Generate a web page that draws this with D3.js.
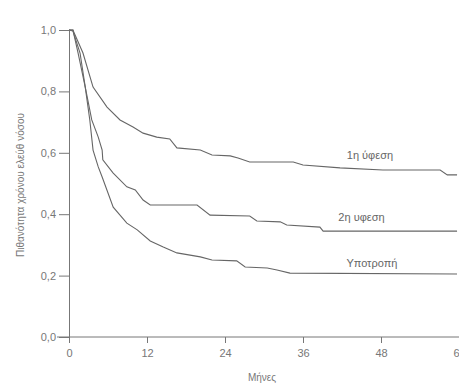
<!DOCTYPE html>
<html>
<head>
<meta charset="utf-8">
<script src="https://cdn.jsdelivr.net/npm/d3@7"></script>
<style>
body{margin:0;background:#fff;}
svg{display:block;}
.axis text{font-family:"Liberation Sans",Arial,sans-serif;font-size:11px;fill:#777;}
.axis path,.axis line{stroke:#777;}
</style>
</head>
<body>
<script>
let w = 459, h = 383;
let margin = {left: 69, right: 0, top: 30, bottom: 46};

// months on x, probability on y
let months1 = [0,0.6,2.15,3.7,5.85,7.85,9.85,11.4,13.5,15.5,16.6,20.2,22,24.8,26,27.8,34.5,36,41.7,48.3,57.1,58.2,59.7];
let remission1 = [1,1,0.925,0.814,0.749,0.707,0.684,0.664,0.651,0.645,0.616,0.609,0.593,0.590,0.583,0.570,0.570,0.560,0.551,0.544,0.544,0.528,0.528];

let months2 = [0,0.6,1.4,2.5,3.5,4.5,5.1,5.2,6.8,8.9,10.2,11.4,12.5,19.7,21.7,27.8,28.9,32.5,33.5,38.6,39.1,59.7];
let remission2 = [1,1,0.925,0.814,0.707,0.651,0.609,0.577,0.534,0.489,0.479,0.446,0.430,0.430,0.397,0.394,0.378,0.375,0.365,0.358,0.345,0.345];

let months3 = [0,0.6,1.7,2.5,3.2,3.7,4.5,5.1,6.8,8.9,10.5,12.5,14.5,16.6,20.2,22,25.8,27.1,30.5,32,34,59.7];
let relapse = [1,0.997,0.925,0.814,0.707,0.609,0.554,0.521,0.423,0.371,0.349,0.313,0.293,0.274,0.261,0.251,0.248,0.228,0.225,0.218,0.208,0.205];

let seriesNames = ["1η ύφεση","2η υφεση","Υποτροπή"];
let xTicks = [0,12,24,36,48,60];
let yTicks = [0,0.2,0.4,0.6,0.8,1.0];

let svg = d3.select("body").append("svg").attr("width",w).attr("height",h);

let x = d3.scaleLinear().domain([0,60]).range([margin.left, w - margin.right]);
let y = d3.scaleLinear().domain([0,1]).range([h - margin.bottom, margin.top]);

let xAxis = d3.axisBottom(x).tickValues(xTicks).tickSize(6).tickSizeOuter(0).tickPadding(6);
let yAxis = d3.axisLeft(y).tickValues(yTicks).tickSize(10).tickSizeOuter(0).tickPadding(3)
              .tickFormat(d => d3.format(".1f")(d).replace(".", ","));

let gx = svg.append("g").attr("class","x axis")
   .attr("transform","translate(0,"+y(0)+")").call(xAxis);
gx.select(".domain").attr("d","M"+(margin.left-12)+",0H"+w);

svg.append("g").attr("class","y axis")
   .attr("transform","translate("+margin.left+",0)").call(yAxis);

let line = d3.line().x(d => x(d[0])).y(d => y(d[1]));

let series = [
  {name: seriesNames[0], m: months1, v: remission1, lx: 46.3, ly: 0.58},
  {name: seriesNames[1], m: months2, v: remission2, lx: 45, ly: 0.378},
  {name: seriesNames[2], m: months3, v: relapse, lx: 46.6, ly: 0.228}
];

series.forEach(s => {
  svg.append("path")
     .attr("d", line(d3.zip(s.m, s.v)))
     .attr("fill","none")
     .attr("stroke","#666")
     .attr("stroke-width",1.1);
  svg.append("text")
     .attr("x", x(s.lx)).attr("y", y(s.ly))
     .attr("text-anchor","middle")
     .attr("font-family","Liberation Sans, Arial, sans-serif")
     .attr("font-size",11).attr("fill","#666")
     .text(s.name);
});

svg.append("text")
   .attr("transform","translate(24,185) rotate(-90)")
   .attr("text-anchor","middle")
   .attr("font-family","Liberation Sans, Arial, sans-serif")
   .attr("font-size",10).attr("fill","#777")
   .text("Πιθανότητα χρόνου ελεύθ νόσου");

svg.append("text")
   .attr("x",262).attr("y",381)
   .attr("text-anchor","middle")
   .attr("font-family","Liberation Sans, Arial, sans-serif")
   .attr("font-size",10).attr("fill","#777")
   .text("Μήνες");
</script>
</body>
</html>
